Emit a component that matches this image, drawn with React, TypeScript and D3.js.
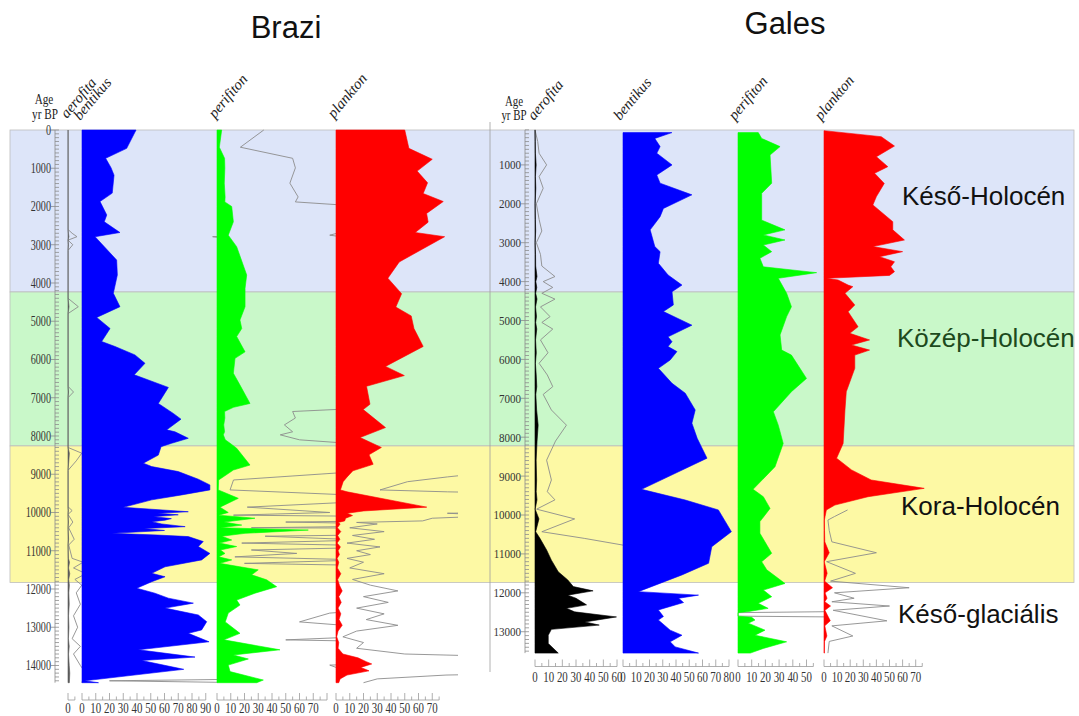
import React from "react";
import * as d3 from "d3";

type Pt = [number, number]; // [age yr BP, percent]

// ---------------- Brazi ----------------
const braziAerofita: Pt[] = [
  [0, 0], [2600, 0], [2700, 0.3], [2790, 0.65], [2880, 0], [3000, 0.35], [3150, 0], [4400, 0], [4620, 0.75], [4800, 0],
  [6700, 0], [6850, 0.4], [7000, 0], [8300, 0], [8450, 1.0], [8650, 0.6], [8900, 0], [9850, 0], [9950, 0.3], [10050, 0],
  [10250, 0.35], [10400, 0.05], [10700, 0.45], [10850, 0.05], [11200, 0.3], [11300, 1.1], [11450, 0.4], [11600, 1.3],
  [11750, 0.5], [11900, 1.0], [12100, 0.6], [12400, 0.9], [12700, 0.4], [13000, 0.7], [13300, 0.3], [13500, 0.9],
  [13700, 0.4], [14000, 0.9], [14200, 1.3], [14450, 1.0],
];
const braziBentikus: Pt[] = [
  [0, 39.3], [480, 32.5], [740, 17.2], [985, 21.1], [1180, 23.3], [1650, 22], [1870, 13.1], [2220, 18], [2400, 16.2],
  [2680, 27.6], [2790, 9.5], [3400, 25.2], [3790, 25.7], [4270, 22.8], [4620, 27.6], [4900, 10.7], [5190, 20.4],
  [5530, 14.3], [5660, 24], [5880, 38.5], [6100, 45.8], [6400, 38], [6730, 62.8], [7150, 55.5], [7410, 66.4],
  [7560, 72], [7840, 61.6], [7890, 67.6], [8060, 77.3], [8190, 65.2], [8280, 57.5], [8500, 55.5], [8710, 44.6],
  [8800, 50.7], [8930, 70], [9130, 84.6], [9280, 93], [9410, 93], [9540, 72.5], [9670, 50.7], [9865, 30], [9980, 77.3],
  [10020, 55], [10060, 70], [10110, 52], [10160, 65], [10200, 60.4], [10240, 50.7], [10300, 58], [10370, 75],
  [10420, 45], [10470, 60], [10545, 21.6], [10590, 55], [10630, 77.3], [10760, 88.2], [10890, 84.6], [11070, 93],
  [11240, 87], [11420, 60.4], [11590, 50.7], [11680, 60.4], [11810, 50.7], [11980, 39.8], [12110, 53], [12240, 62.8],
  [12370, 81], [12500, 60.4], [12680, 84.6], [12855, 90.7], [13070, 87], [13160, 77.3], [13380, 92.4], [13590, 41],
  [13780, 82.2], [13870, 43.4], [14100, 74], [14400, 2], [14450, 12],
];
const braziPerifiton: Pt[] = [
  [0, 3.4], [450, 1.7], [740, 5.5], [990, 5.7], [1390, 5.3], [1750, 5.9], [1880, 5.7], [2000, 10.7], [2400, 11.9],
  [2750, 8.2], [3050, 14.3], [3790, 21.6], [4140, 20.4], [4620, 20.4], [4970, 16.7], [5190, 18], [5400, 14.3],
  [5800, 20.4], [5970, 13.1], [6360, 11.9], [6670, 16.7], [7150, 24], [7250, 12], [7360, 5.5], [7530, 5.7],
  [7710, 4.9], [7890, 5.5], [7970, 4.6], [8100, 6], [8190, 9.5], [8320, 14.3], [8760, 24], [8890, 11.9], [9150, 1.2],
  [9410, 0.95], [9630, 15.5], [9860, 2.2], [10000, 8.2], [10070, 1.2], [10150, 27.6], [10250, 5], [10330, 18],
  [10400, 2.5], [10460, 66.4], [10545, 20.4], [10620, 3.5], [10720, 10.7], [10800, 1.8], [10890, 14.3], [10980, 2.5],
  [11070, 5.8], [11160, 1.3], [11240, 10.7], [11330, 2], [11420, 16.7], [11500, 30], [11630, 25.2], [11760, 36.1],
  [11940, 43.4], [12110, 27.6], [12290, 14.3], [12420, 16.7], [12630, 8.2], [12860, 6], [13160, 16.7], [13330, 5],
  [13590, 45.8], [13725, 11.9], [13830, 22.8], [13990, 8.2], [14160, 9.5], [14380, 33.7], [14450, 28.9],
];
const braziPlankton: Pt[] = [
  [0, 50], [480, 53], [765, 70], [1075, 59], [1380, 66.6], [1660, 63.4], [1870, 78], [2180, 65.9], [2410, 67],
  [2680, 57.6], [2790, 79], [3450, 46], [3875, 37.7], [4280, 47.7], [4630, 43.5], [4860, 54.7], [5190, 56.7],
  [5660, 63.4], [6180, 36], [6420, 49.7], [6700, 22.2], [7170, 24.7], [7310, 19.8], [7780, 36], [8040, 17.5],
  [8300, 33], [8490, 24], [8740, 27], [8910, 12.3], [9070, 8.1], [9195, 5.2], [9410, 3.2], [9460, 8.1], [9860, 66],
  [9960, 20], [10020, 8.1], [10080, 12], [10150, 7], [10220, 6.3], [10260, 1.5], [10300, 3], [10400, 1], [10500, 3.5],
  [10600, 1.2], [10700, 2.8], [10800, 0.8], [10900, 3.2], [11000, 1.5], [11100, 2.5], [11200, 0.8], [11300, 2],
  [11450, 1], [11600, 3.5], [11750, 1.2], [11900, 2.5], [12050, 4.5], [12200, 2], [12350, 3.8], [12500, 1.5],
  [12650, 3.5], [12800, 2.2], [12950, 4.5], [13100, 1.5], [13250, 0.5], [13400, 2], [13550, 1.5], [13700, 5],
  [13800, 16], [13900, 22], [13960, 26], [14050, 18], [14140, 24], [14250, 8], [14350, 3], [14450, 2],
];

// ---------------- Gales ----------------
const galesAerofita: Pt[] = [
  [100, 0], [400, 0.2], [700, 0.3], [1000, 0.85], [1300, 0.3], [1600, 0.6], [2000, 0.1], [2400, 0.3], [2700, 0.5],
  [3000, 0.1], [3300, 0.4], [3600, 0.5], [3870, 1.46], [4000, 0.6], [4150, 1.3], [4300, 0.5], [4450, 1.46], [4650, 0.4],
  [4900, 1.1], [5050, 0.5], [5220, 1.3], [5500, 0.4], [5830, 0.95], [6100, 0.3], [6400, 0.9], [6700, 1.3], [6900, 0.6],
  [7300, 1.2], [7690, 2.3], [8100, 1.5], [8590, 0.85], [9100, 1.2], [9400, 0.9], [9610, 1.46], [9850, 0.12],
  [10100, 2.9], [10430, 0.5], [10600, 3.6], [10900, 8.5], [11160, 12], [11460, 17], [11670, 24], [11840, 28],
  [11950, 42.5], [12060, 24], [12140, 30], [12310, 37.7], [12400, 23], [12490, 29], [12620, 59.6], [12750, 36.5],
  [12830, 47], [12940, 12], [13090, 9.7], [13300, 9.7], [13550, 17],
];
const galesBentikus: Pt[] = [
  [170, 36.9], [320, 24], [530, 28], [700, 25.5], [1000, 37], [1260, 25.5], [1470, 28], [1770, 52], [2120, 30.5],
  [2330, 28], [2670, 20.5], [3100, 24], [3230, 28], [3530, 26.7], [3830, 34], [4090, 44.5], [4260, 37], [4600, 38],
  [4770, 30.5], [5120, 52], [5420, 34], [5545, 37], [5670, 34], [5800, 40.7], [6015, 35.6], [6230, 26.7], [6615, 37],
  [6870, 47], [7300, 54.5], [7640, 52], [8030, 56], [8540, 63.4], [9340, 14], [9615, 47], [9870, 72], [10430, 81.8],
  [10815, 67], [11240, 64.6], [11540, 44.5], [11970, 11.6], [12060, 57], [12140, 42], [12250, 45.7], [12440, 26.7],
  [12610, 30.5], [12700, 26.7], [12960, 35.6], [13090, 44.5], [13260, 35.6], [13390, 39.4], [13550, 57],
];
const galesPerifiton: Pt[] = [
  [170, 14.8], [320, 17.3], [530, 30.7], [745, 23.4], [1470, 24.6], [1730, 17.3], [2420, 17.3], [2670, 34.3],
  [2800, 18.5], [2930, 34.3], [3060, 18.5], [3230, 24.6], [3400, 16], [3620, 18.5], [3770, 57.4], [3915, 29.4],
  [4300, 35.5], [4645, 39], [4900, 35.5], [5370, 30.7], [5760, 31.9], [5890, 39], [6490, 50], [6830, 39], [7345, 25.8],
  [7690, 29.4], [8160, 33], [8760, 27], [9340, 11], [9530, 18.5], [9830, 23.4], [10170, 16], [10470, 16], [10985, 24.6],
  [11200, 17.3], [11410, 21], [11760, 34.3], [11930, 18.5], [12100, 24.6], [12270, 14.8], [12400, 22], [12480, 8],
  [12510, 0], [12600, 0], [12630, 10], [12700, 12.4], [12780, 7.5], [12960, 19.7], [13090, 12.4], [13260, 35.5],
  [13430, 18.5], [13550, 9],
];
const galesPlankton: Pt[] = [
  [120, 0], [275, 43.7], [515, 53.8], [790, 40], [1045, 48.7], [1215, 38.6], [1475, 46], [1815, 40], [2030, 37.3],
  [2460, 52.5], [2670, 52.5], [2930, 61.4], [3100, 37.3], [3230, 60], [3360, 42.4], [3490, 53.8], [3620, 51],
  [3745, 53.8], [3840, 50], [3915, 2], [3960, 10.8], [4090, 18.4], [4130, 22], [4300, 16], [4600, 23.5], [4775, 18.4],
  [5160, 26], [5330, 19.7], [5500, 34.8], [5630, 21], [5760, 34.8], [5890, 23.5], [6230, 23.5], [6830, 17], [7300, 16],
  [8160, 14.6], [8540, 9.6], [8840, 21], [9100, 36], [9315, 76.5], [9530, 33.6], [9745, 8.3], [9870, 1.8],
  [10040, 0.8], [10130, 0.3], [10400, 0.4], [10690, 0.6], [10970, 4], [11200, 0.2], [11500, 2.4], [11700, 0.5],
  [11870, 6.5], [12000, 0.8], [12140, 2.3], [12230, 0.6], [12340, 5], [12450, 0.7], [12720, 4.8], [12850, 0.6],
  [13110, 2.2], [13250, 0.4], [13550, 0.3],
];

// Zones (Brazi age scale)
const zoneNames = ["Késő-Holocén", "Közép-Holocén", "Kora-Holocén", "Késő-glaciális"];
const zoneBounds = [0, 4235, 8260, 11830];
const taxaNames = ["aerofita", "bentikus", "perifiton", "plankton"];
const siteNames = ["Brazi", "Gales"];

const SERIF = "'Liberation Serif','Times New Roman',serif";
const SANS = "'Liberation Sans',Arial,sans-serif";
const EXAG = 10;

type Col = {
  id: string;
  data: Pt[];
  x0: number;
  k: number;
  color: string;
  clipR: number;
  exFrom: number;
  tickMax: number;
  labelMax: number;
  label: string;
  lx: number;
  ly: number;
};

function CText(p: {
  x: number; y: number; sx?: number; anchor?: string; size: number; family: string;
  fill?: string; children: React.ReactNode; italic?: boolean; rotate?: number;
}) {
  const t = `translate(${p.x},${p.y})` + (p.rotate ? ` rotate(${p.rotate})` : "") + ` scale(${p.sx ?? 1},1)`;
  return (
    <text transform={t} textAnchor={p.anchor ?? "start"} fontSize={p.size} fontFamily={p.family}
      fill={p.fill ?? "#222"} fontStyle={p.italic ? "italic" : "normal"}>
      {p.children}
    </text>
  );
}

function Column({ c, ys, axisY, labelY }: { c: Col; ys: d3.ScaleLinear<number, number>; axisY: number; labelY: number }) {
  const xs = d3.scaleLinear().domain([0, 100]).range([c.x0, c.x0 + 100 * c.k]);
  const area = d3.area<Pt>().y((d) => ys(d[0])).x0(xs(0)).x1((d) => xs(d[1]));
  // x10 exaggeration curve, kept inside the column's own strip
  const exLine = d3.line<Pt>().y((d) => ys(d[0])).x((d) => xs(d[1] * EXAG));
  const exData = c.data.filter((d) => d[0] >= c.exFrom);
  const ticks = d3.range(0, c.tickMax + 0.01, 5);
  const labels = d3.range(0, c.labelMax + 0.01, 10);
  return (
    <g>
      <clipPath id={`clip-${c.id}`}>
        <rect x={c.x0} y={0} width={c.clipR - c.x0} height={716} />
      </clipPath>
      <path d={exLine(exData) ?? ""} fill="none" stroke="#8c8c8c" strokeWidth={0.9} clipPath={`url(#clip-${c.id})`} />
      <path d={area(c.data) ?? ""} fill={c.color} stroke={c.color} strokeWidth={0.6} />
      <g stroke="#9a9a9a" strokeWidth={0.8}>
        <line x1={xs(0)} x2={xs(c.tickMax)} y1={axisY} y2={axisY} />
        {ticks.map((t) => (
          <line key={t} x1={xs(t)} x2={xs(t)} y1={axisY} y2={axisY - (t % 10 === 0 ? 7 : 3.5)} />
        ))}
      </g>
      {labels.map((t) => (
        <CText key={t} x={xs(t)} y={labelY} sx={0.75} anchor="middle" size={14.5} family={SERIF} fill="#333">
          {t}
        </CText>
      ))}
      <CText x={c.lx} y={c.ly} rotate={-50} size={15} family={SERIF} italic fill="#222">
        {c.label}
      </CText>
    </g>
  );
}

function AgeAxis(p: {
  ys: d3.ScaleLinear<number, number>; x: number; from: number; to: number; lineTo: number;
  labels: number[]; size: number; sx: number;
}) {
  const minor = d3.range(p.from, p.to + 1, 100);
  return (
    <g>
      <g stroke="#8c8c8c" strokeWidth={0.8}>
        <line x1={p.x} x2={p.x} y1={p.ys(p.from)} y2={p.ys(p.lineTo)} />
        {minor.map((a) => (
          <line key={a} x1={a % 1000 === 0 ? p.x - 4 : p.x} x2={p.x + 4} y1={p.ys(a)} y2={p.ys(a)} />
        ))}
      </g>
      {p.labels.map((a) => (
        <CText key={a} x={p.x - 4} y={p.ys(a) + p.size * 0.34} sx={p.sx} anchor="end" size={p.size} family={SERIF} fill="#333">
          {a}
        </CText>
      ))}
    </g>
  );
}

export default function App() {
  const ysB = d3.scaleLinear().domain([0, 14450]).range([130, 682.7]);
  const ysG = d3.scaleLinear().domain([0, 13550]).range([126, 653.1]);

  const braziCols: Col[] = [
    { id: "ba", data: braziAerofita, x0: 68, k: 1.375, color: "#5a5a5a", clipR: 82, exFrom: 0, tickMax: 5, labelMax: 0, label: taxaNames[0], lx: 67, ly: 119 },
    { id: "bb", data: braziBentikus, x0: 82, k: 1.375, color: "#0000ff", clipR: 217, exFrom: 0, tickMax: 90, labelMax: 90, label: taxaNames[1], lx: 80, ly: 121 },
    { id: "bp", data: braziPerifiton, x0: 217, k: 1.375, color: "#00ff00", clipR: 336, exFrom: 0, tickMax: 80, labelMax: 70, label: taxaNames[2], lx: 215, ly: 119 },
    { id: "bk", data: braziPlankton, x0: 336, k: 1.375, color: "#ff0000", clipR: 458, exFrom: 8800, tickMax: 75, labelMax: 70, label: taxaNames[3], lx: 334, ly: 119 },
  ];
  const galesCols: Col[] = [
    { id: "ga", data: galesAerofita, x0: 535, k: 1.367, color: "#000000", clipR: 623, exFrom: 0, tickMax: 60, labelMax: 60, label: taxaNames[0], lx: 534, ly: 121 },
    { id: "gb", data: galesBentikus, x0: 623, k: 1.325, color: "#0000ff", clipR: 738, exFrom: 0, tickMax: 80, labelMax: 80, label: taxaNames[1], lx: 620, ly: 121 },
    { id: "gp", data: galesPerifiton, x0: 738, k: 1.37, color: "#00ff00", clipR: 824, exFrom: 0, tickMax: 55, labelMax: 50, label: taxaNames[2], lx: 735, ly: 121 },
    { id: "gk", data: galesPlankton, x0: 824, k: 1.31, color: "#ff0000", clipR: 930, exFrom: 9830, tickMax: 75, labelMax: 70, label: taxaNames[3], lx: 821, ly: 121 },
  ];

  const zoneFill = ["#dde5f9", "#c9f8c9", "#fdf9a4"];
  const zoneText = ["#111", "#1d4a1d", "#111", "#111"];
  const zoneLabelX = [902, 897, 901, 898];
  const zoneLabelY = [205, 347, 515, 623];

  return (
    <svg width={1079} height={716} style={{ position: "absolute", left: 0, top: 0, display: "block", background: "#fff" }}>
      {/* zone bands */}
      {zoneFill.map((f, i) => (
        <rect key={i} x={10} y={ysB(zoneBounds[i])} width={1064} height={ysB(zoneBounds[i + 1]) - ysB(zoneBounds[i])}
          fill={f} stroke="#bdbdbd" strokeWidth={0.8} />
      ))}

      {/* site titles */}
      <CText x={286} y={38} anchor="middle" size={31} family={SANS} fill="#111">{siteNames[0]}</CText>
      <CText x={785} y={34} anchor="middle" size={31} family={SANS} fill="#111">{siteNames[1]}</CText>

      {/* Brazi */}
      <CText x={44} y={104} anchor="middle" size={14} sx={0.8} family={SERIF}>Age</CText>
      <CText x={45} y={119} anchor="middle" size={14} sx={0.8} family={SERIF}>yr BP</CText>
      <AgeAxis ys={ysB} x={55} from={0} to={14400} lineTo={14450} labels={d3.range(0, 14001, 1000)} size={14.5} sx={0.7} />
      {braziCols.map((c) => (
        <Column key={c.id} c={c} ys={ysB} axisY={700} labelY={713} />
      ))}

      {/* Gales */}
      <line x1={490} x2={490} y1={122} y2={672} stroke="#a0a0a0" strokeWidth={0.8} />
      <CText x={514} y={106} anchor="middle" size={14} sx={0.78} family={SERIF}>Age</CText>
      <CText x={514} y={120} anchor="middle" size={14} sx={0.78} family={SERIF}>yr BP</CText>
      <AgeAxis ys={ysG} x={525} from={100} to={13500} lineTo={13550} labels={d3.range(1000, 13001, 1000)} size={13} sx={0.85} />
      {galesCols.map((c) => (
        <Column key={c.id} c={c} ys={ysG} axisY={666.5} labelY={681.5} />
      ))}

      {/* zone labels */}
      {zoneNames.map((n, i) => (
        <CText key={n} x={zoneLabelX[i]} y={zoneLabelY[i]} size={26} family={SANS} fill={zoneText[i]}>{n}</CText>
      ))}
    </svg>
  );
}
